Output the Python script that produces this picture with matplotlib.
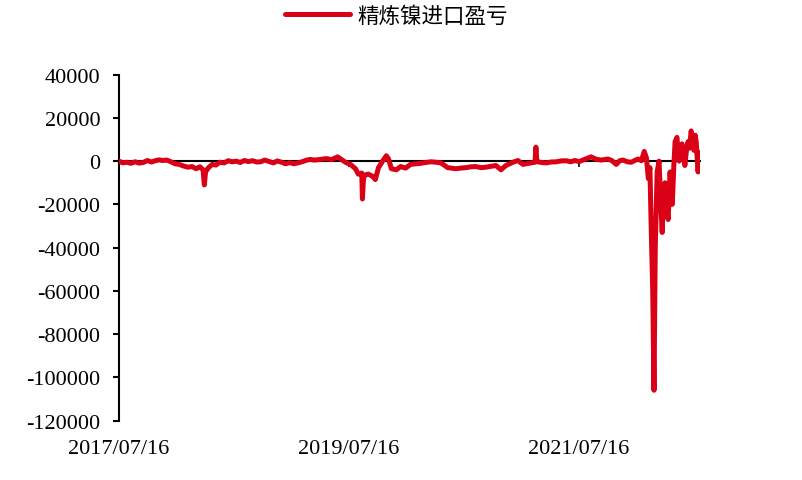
import matplotlib
matplotlib.use("Agg")
import matplotlib.pyplot as plt
import matplotlib.dates as mdates
import matplotlib.transforms as mtransforms
import pandas as pd

plt.rcParams['font.family'] = ['Liberation Serif', 'Noto Sans CJK SC', 'DejaVu Sans']

# 精炼镍进口盈亏 (元/吨)
dates = [
    "2017-07-16", "2017-07-28", "2017-08-10", "2017-08-22", "2017-09-05", "2017-09-18",
    "2017-10-01", "2017-10-14", "2017-10-27", "2017-11-08", "2017-11-20", "2017-12-02",
    "2017-12-15", "2017-12-28", "2018-01-10", "2018-01-23", "2018-02-05", "2018-02-20",
    "2018-03-05", "2018-03-18", "2018-03-30", "2018-04-09", "2018-04-13", "2018-04-17",
    "2018-04-25", "2018-05-08", "2018-05-20", "2018-06-01", "2018-06-15", "2018-06-28",
    "2018-07-10", "2018-07-23", "2018-08-05", "2018-08-18", "2018-08-31", "2018-09-13",
    "2018-09-26", "2018-10-09", "2018-10-22", "2018-11-05", "2018-11-18", "2018-12-01",
    "2018-12-14", "2018-12-27", "2019-01-09", "2019-01-22", "2019-02-04", "2019-02-17",
    "2019-03-02", "2019-03-15", "2019-03-28", "2019-04-17", "2019-05-05", "2019-05-22",
    "2019-06-10", "2019-06-22", "2019-07-05", "2019-07-21", "2019-08-06", "2019-08-15",
    "2019-08-26", "2019-08-28", "2019-08-31", "2019-09-03", "2019-09-16", "2019-09-29",
    "2019-10-08", "2019-10-18", "2019-10-31", "2019-11-12", "2019-11-19", "2019-11-28",
    "2019-12-14", "2019-12-27", "2020-01-12", "2020-01-28", "2020-02-14", "2020-02-29",
    "2020-03-16", "2020-04-01", "2020-04-18", "2020-05-03", "2020-05-25", "2020-06-20",
    "2020-07-06", "2020-07-22", "2020-08-07", "2020-08-22", "2020-09-08", "2020-09-23",
    "2020-10-10", "2020-10-25", "2020-11-10", "2020-11-26", "2020-12-18", "2021-01-03",
    "2021-01-19", "2021-02-13", "2021-02-26", "2021-03-01", "2021-03-04", "2021-03-18",
    "2021-04-02", "2021-04-18", "2021-05-04", "2021-05-20", "2021-06-05", "2021-06-20",
    "2021-07-02", "2021-07-16", "2021-08-02", "2021-08-23", "2021-09-08", "2021-09-24",
    "2021-10-16", "2021-10-28", "2021-11-11", "2021-11-22", "2021-12-03", "2021-12-16",
    "2021-12-29", "2022-01-10", "2022-01-20", "2022-01-30", "2022-02-08", "2022-02-15",
    "2022-02-21", "2022-02-26", "2022-03-02", "2022-03-07", "2022-03-11", "2022-03-15",
    "2022-03-21", "2022-03-27", "2022-04-01", "2022-04-06", "2022-04-11", "2022-04-15",
    "2022-04-20", "2022-04-25", "2022-05-01", "2022-05-05", "2022-05-08", "2022-05-13",
    "2022-05-17", "2022-05-23", "2022-05-27", "2022-05-30", "2022-06-03", "2022-06-08",
    "2022-06-13", "2022-06-17", "2022-06-22", "2022-06-27", "2022-07-02", "2022-07-07",
    "2022-07-12", "2022-07-16", "2022-07-20", "2022-07-23", "2022-07-26", "2022-07-29",
    "2022-08-01", "2022-08-04",
]
profit = [
    0, -800, -500, -1000, -300, -900,
    -600, 300, -400, 200, 600, 300,
    500, -300, -1200, -1500, -2200, -2800,
    -2500, -3500, -2600, -4000, -11000, -5000,
    -3200, -1500, -1800, -500, -800, 200,
    -300, 0, -600, 300, -200, 200,
    -400, -300, 500, -200, -800, 100,
    -500, -1200, -700, -1200, -800, -300,
    400, 800, 500, 800, 1200, 700,
    2000, 800, -500, -1500, -3500, -6000,
    -5500, -17500, -9000, -6500, -6000, -7000,
    -8500, -3000, 0, 2500, 1000, -3500,
    -4000, -2500, -3200, -1500, -1200, -1000,
    -600, -300, -500, -800, -3000, -3500,
    -3200, -3000, -2600, -2500, -3000, -2800,
    -2400, -2000, -4000, -2000, -500, 300,
    -1500, -800, -500, 6500, -200, -600,
    -800, -400, -300, 100, 200, -300,
    300, -200, 800, 2000, 900, 500,
    1000, 300, -1500, 200, 500, -300,
    -500, 400, 1000, 200, 4500, 1500,
    -8000, -3000, -30000, -60000, -106000, -40000,
    -5000, 0, -18000, -33000, -12000, -10000,
    -22000, -27000, -5000, -14000, -20000, -2000,
    9000, 11000, 3000, 0, 6000, 8000,
    3000, -2000, 5000, 9000, 6000, 14000,
    8000, 5000, 12000, 9000, 2000, -5000,
    4000, 2000,
]

x_ticks = ["2017-07-16", "2019-07-16", "2021-07-16"]
x_tick_labels = ["2017/07/16", "2019/07/16", "2021/07/16"]
y_ticks = list(range(-120000, 40001, 20000))

red = '#DA0016'

fig = plt.figure(figsize=(8.03, 4.81), dpi=100)
ax = fig.add_axes([0.1482, 0.1237, 0.7235, 0.7189])

x = pd.to_datetime(dates)
ax.plot(x, profit, color=red, lw=3.6, solid_joinstyle='round',
        solid_capstyle='round', zorder=3, label='精炼镍进口盈亏')

ax.set_xlim(x[0], x[-1])
ax.set_ylim(-120000, 40000)
ax.set_yticks(y_ticks)
ax.set_yticklabels([str(v) for v in y_ticks])

ax.spines['top'].set_visible(False)
ax.spines['right'].set_visible(False)
ax.spines['bottom'].set_position(('data', 0))
ax.spines['bottom'].set_linewidth(1.5)
ax.spines['left'].set_linewidth(1.5)

ax.set_xticks(pd.to_datetime(x_ticks))
ax.tick_params(axis='x', direction='out', length=4, width=1.2, labelbottom=False)
ax.tick_params(axis='y', direction='out', length=4.5, width=1.5, pad=9,
               labelsize=16)

# x labels sit at the bottom of the chart, under the -120000 line
trans = mtransforms.blended_transform_factory(ax.transData, ax.transAxes)
for d, lab in zip(pd.to_datetime(x_ticks), x_tick_labels):
    ax.text(mdates.date2num(d), -0.082, lab, transform=trans, ha='center',
            va='center', fontsize=16)

fig.legend(loc='center', bbox_to_anchor=(0.494, 0.965), frameon=False,
           handlelength=3.0, handletextpad=0.35, prop={'family': ['Noto Sans CJK SC'], 'size': 15.5})

fig.savefig('out.png', dpi=100)
